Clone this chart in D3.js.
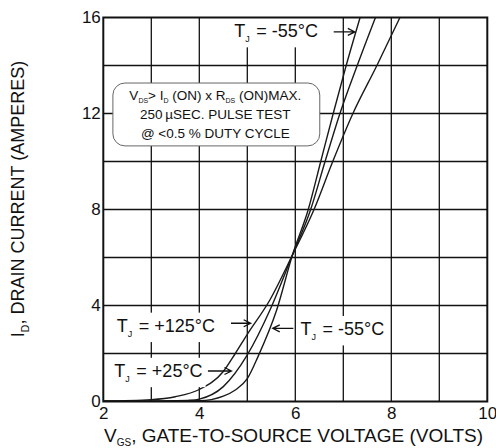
<!doctype html>
<html lang="en">
<head>
<meta charset="utf-8">
<title>Transfer characteristics</title>
<script src="https://d3js.org/d3.v7.min.js"></script>
<style>
  html, body { margin: 0; padding: 0; background: #fff; }
  svg { display: block; font-family: "Liberation Sans", Arial, sans-serif; }
</style>
</head>
<body>
<div id="chart"></div>
<script>
// axis ticks
var xTicks = [2, 4, 6, 8, 10];
var yTicks = [0, 4, 8, 12, 16];

// curves (VGS in volts, ID in amperes)
var vgs125 = [2, 3, 3.5, 4, 4.5, 4.75, 5, 5.47, 5.94, 6.39, 6.78, 7.2, 7.7, 8.18];
var id125  = [0.02, 0.08, 0.2, 0.5, 1.25, 2.0, 2.8, 4.23, 6.1, 8, 10, 12, 14, 16];

var vgs25 = [2, 3, 3.5, 3.8, 4, 4.5, 5, 5.47, 5.94, 6.32, 6.62, 6.93, 7.29, 7.67];
var id25  = [0.01, 0.02, 0.03, 0.05, 0.1, 0.62, 1.94, 3.8, 6.1, 8, 10, 12, 14, 16];

var vgs55 = [2, 3, 4, 4.25, 4.5, 4.75, 5, 5.23, 5.61, 5.94, 6.27, 6.53, 6.79, 7.06, 7.35];
var id55  = [0, 0.01, 0.03, 0.08, 0.22, 0.48, 0.95, 1.9, 3.8, 6.1, 8, 10, 12, 14, 16];

var W = 496, H = 448;
var pLeft = 103.3, pRight = 487.3, pTop = 17.5, pBottom = 401.5;

var x = d3.scaleLinear().domain([2, 10]).range([pLeft, pRight]);
var y = d3.scaleLinear().domain([0, 16]).range([pBottom, pTop]);

var svg = d3.select("#chart").append("svg")
    .attr("width", W)
    .attr("height", H);

svg.append("defs").append("clipPath").attr("id", "plot")
  .append("rect")
    .attr("x", pLeft).attr("y", pTop)
    .attr("width", pRight - pLeft).attr("height", pBottom - pTop);

// grid: every volt, every 2 amps
var grid = svg.append("g").attr("stroke", "#111").attr("stroke-width", 1.3);
grid.selectAll(".vg").data(d3.range(3, 10)).enter().append("line")
    .attr("x1", function (d) { return x(d); }).attr("x2", function (d) { return x(d); })
    .attr("y1", pTop).attr("y2", pBottom);
grid.selectAll(".hg").data(d3.range(2, 16, 2)).enter().append("line")
    .attr("x1", pLeft).attr("x2", pRight)
    .attr("y1", function (d) { return y(d); }).attr("y2", function (d) { return y(d); });

// curves
var series = [
  { v: vgs125, i: id125 },
  { v: vgs25, i: id25 },
  { v: vgs55, i: id55 }
];
var line = d3.line()
    .x(function (d) { return x(d[0]); })
    .y(function (d) { return y(d[1]); })
    .curve(d3.curveMonotoneX);

svg.append("g").attr("clip-path", "url(#plot)")
  .selectAll("path").data(series).enter().append("path")
    .attr("d", function (s) { return line(d3.zip(s.v, s.i)); })
    .attr("fill", "none")
    .attr("stroke", "#1a1a1a")
    .attr("stroke-width", 1.4);

// labels with white backing
function label(vx, iy, parts, size) {
  var g = svg.append("g");
  var t = g.append("text")
      .attr("x", x(vx)).attr("y", y(iy))
      .attr("font-size", size).attr("fill", "#111");
  parts.forEach(function (p) {
    if (p.sub) {
      t.append("tspan").attr("font-size", size * 0.5).attr("dy", size * 0.3).text(p.sub);
      t.append("tspan").attr("dy", -size * 0.3).text("\u200a");
    } else {
      t.append("tspan").text(p.t);
    }
  });
  var b = t.node().getBBox();
  g.insert("rect", "text")
      .attr("x", b.x - 3).attr("y", b.y - 3)
      .attr("width", b.width + 6).attr("height", b.height + 6)
      .attr("fill", "#fff");
  return g;
}

function arrow(v0, v1, iy) {
  var x0 = x(v0), x1 = x(v1), yy = y(iy);
  var dir = x1 > x0 ? 1 : -1;
  svg.append("path")
      .attr("d", "M" + x0 + "," + yy + "L" + x1 + "," + yy +
                 "M" + (x1 - dir * 7) + "," + (yy - 3.5) + "L" + x1 + "," + yy +
                 "L" + (x1 - dir * 7) + "," + (yy + 3.5))
      .attr("fill", "none")
      .attr("stroke", "#111")
      .attr("stroke-width", 1.3);
}

label(4.73, 15.19, [{ t: "T" }, { sub: "J" }, { t: " = -55°C" }], 18);
arrow(6.8, 7.24, 15.4);

label(2.28, 2.91, [{ t: "T" }, { sub: "J" }, { t: " = +125°C" }], 18);
arrow(4.66, 5.07, 3.26);

label(2.23, 1.03, [{ t: "T" }, { sub: "J" }, { t: " = +25°C" }], 18);
arrow(4.18, 4.67, 1.27);

label(6.11, 2.77, [{ t: "T" }, { sub: "J" }, { t: " = -55°C" }], 18);
arrow(5.96, 5.53, 3.05);

// test condition box
var bx0 = x(2.2), bx1 = x(6.51), by0 = y(13.27), by1 = y(10.65);
svg.append("rect")
    .attr("x", bx0).attr("y", by0)
    .attr("width", bx1 - bx0).attr("height", by1 - by0)
    .attr("rx", 12).attr("ry", 12)
    .attr("fill", "#fff")
    .attr("stroke", "#666")
    .attr("stroke-width", 1);

var cx = (bx0 + bx1) / 2 - 1;
var bf = 13.5;
var t1 = svg.append("text").attr("x", cx).attr("y", by0 + 16.5)
    .attr("text-anchor", "middle").attr("font-size", bf).attr("fill", "#111");
t1.append("tspan").text("V");
t1.append("tspan").attr("font-size", 7).attr("dy", 3.5).text("DS");
t1.append("tspan").attr("dy", -3.5).text("> I");
t1.append("tspan").attr("font-size", 7).attr("dy", 3.5).text("D");
t1.append("tspan").attr("dy", -3.5).text(" (ON) x  R");
t1.append("tspan").attr("font-size", 7).attr("dy", 3.5).text("DS");
t1.append("tspan").attr("dy", -3.5).text(" (ON)MAX.");

svg.append("text").attr("x", cx).attr("y", by0 + 35.5)
    .attr("text-anchor", "middle").attr("font-size", bf).attr("fill", "#111")
    .text("250\u2009µSEC. PULSE TEST");
svg.append("text").attr("x", cx).attr("y", by0 + 54.5)
    .attr("text-anchor", "middle").attr("font-size", bf).attr("fill", "#111")
    .text("@ <0.5 % DUTY CYCLE");

// frame
svg.append("rect")
    .attr("x", pLeft).attr("y", pTop)
    .attr("width", pRight - pLeft).attr("height", pBottom - pTop)
    .attr("fill", "none")
    .attr("stroke", "#111")
    .attr("stroke-width", 2);

// axes (labels only, no tick marks)
var xAxis = svg.append("g")
    .attr("transform", "translate(0," + pBottom + ")")
    .call(d3.axisBottom(x).tickValues(xTicks).tickSize(0).tickPadding(5.5));
var yAxis = svg.append("g")
    .attr("transform", "translate(" + pLeft + ",0)")
    .call(d3.axisLeft(y).tickValues(yTicks).tickSize(0).tickPadding(2.5));
[xAxis, yAxis].forEach(function (a) {
  a.select(".domain").remove();
  a.selectAll("text")
      .attr("font-size", 17)
      .attr("font-family", "Liberation Sans, Arial, sans-serif")
      .attr("fill", "#111");
});

// axis titles
var xt = svg.append("text")
    .attr("x", 293.5).attr("y", 442)
    .attr("text-anchor", "middle").attr("font-size", 19).attr("fill", "#111");
xt.append("tspan").text("V");
xt.append("tspan").attr("font-size", 10).attr("dy", 4).text("GS");
xt.append("tspan").attr("dy", -4).text(", GATE-TO-SOURCE VOLTAGE (VOLTS)");

var yt = svg.append("text")
    .attr("transform", "translate(23.5," + 199 + ") rotate(-90)")
    .attr("text-anchor", "middle").attr("font-size", 18).attr("fill", "#111");
yt.append("tspan").text("I");
yt.append("tspan").attr("font-size", 10.5).attr("dy", 5).text("D");
yt.append("tspan").attr("dy", -5).text(", DRAIN CURRENT (AMPERES)");
</script>
</body>
</html>
